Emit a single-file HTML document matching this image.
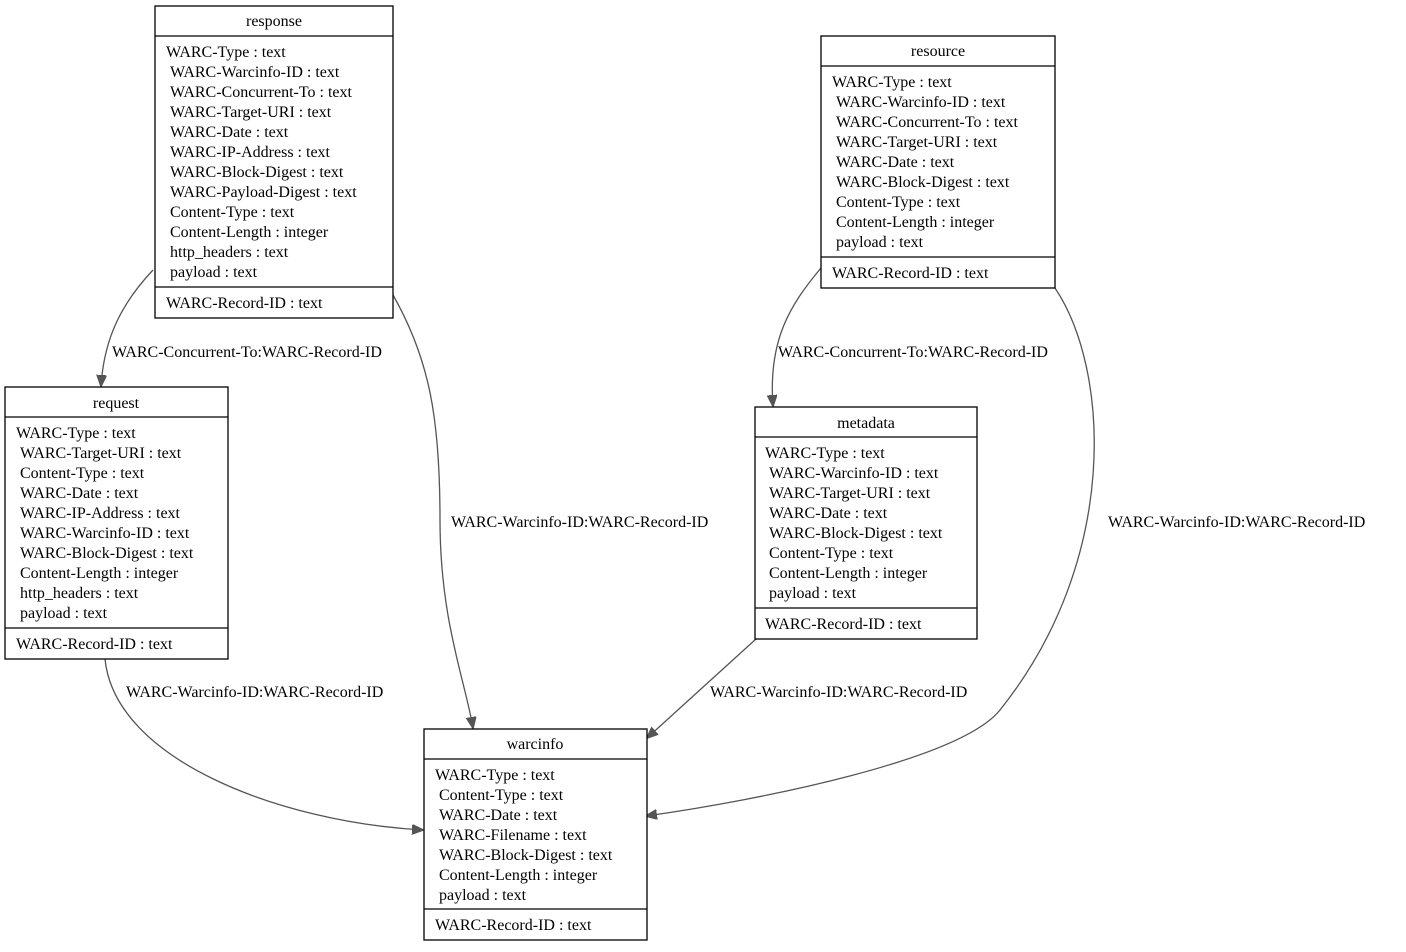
<!DOCTYPE html>
<html><head><meta charset="utf-8"><style>
html,body{margin:0;padding:0;background:#fff;}
svg text{font-family:"Liberation Serif",serif;font-size:16px;fill:#000;}
</style></head><body>
<svg width="1406" height="947" viewBox="0 0 1406 947" xmlns="http://www.w3.org/2000/svg">
<defs><marker id="a" markerWidth="12" markerHeight="12" refX="11" refY="5" orient="auto" markerUnits="userSpaceOnUse"><path d="M0,0 L12,5 L0,10 z" fill="#555" stroke="#555"/></marker></defs>
<g fill="none" stroke="#555" stroke-width="1.3">
<path d="M153,270 C120,305 104,340 101,386" marker-end="url(#a)"/>
<path d="M393,295 C430,360 440,420 440,520 C440,620 465,680 473,728" marker-end="url(#a)"/>
<path d="M105,659 C115,760 280,822 423,830" marker-end="url(#a)"/>
<path d="M821,268 C790,305 768,340 773,406" marker-end="url(#a)"/>
<path d="M1055,288 C1110,370 1120,560 1000,710 C960,760 760,800 646,816" marker-end="url(#a)"/>
<path d="M756,639 L647,738" marker-end="url(#a)"/>
</g>
<g>
<text x="112" y="357">WARC-Concurrent-To:WARC-Record-ID</text>
<text x="451" y="527">WARC-Warcinfo-ID:WARC-Record-ID</text>
<text x="126" y="697">WARC-Warcinfo-ID:WARC-Record-ID</text>
<text x="778" y="357">WARC-Concurrent-To:WARC-Record-ID</text>
<text x="1108" y="527">WARC-Warcinfo-ID:WARC-Record-ID</text>
<text x="710" y="697">WARC-Warcinfo-ID:WARC-Record-ID</text>
</g>
<g fill="#fff" stroke="#000" stroke-width="1.3">
<rect x="155" y="6" width="238" height="312"/><line x1="155" y1="36" x2="393" y2="36"/><line x1="155" y1="287" x2="393" y2="287"/>
<rect x="5" y="387" width="223" height="272"/><line x1="5" y1="417" x2="228" y2="417"/><line x1="5" y1="628" x2="228" y2="628"/>
<rect x="821" y="36" width="234" height="252"/><line x1="821" y1="66" x2="1055" y2="66"/><line x1="821" y1="257" x2="1055" y2="257"/>
<rect x="755" y="407" width="222" height="232"/><line x1="755" y1="437" x2="977" y2="437"/><line x1="755" y1="608" x2="977" y2="608"/>
<rect x="424" y="729" width="223" height="211"/><line x1="424" y1="759" x2="647" y2="759"/><line x1="424" y1="909" x2="647" y2="909"/>
</g>
<g text-anchor="middle">
<text x="274" y="26">response</text>
<text x="116" y="408">request</text>
<text x="938" y="56">resource</text>
<text x="866" y="428">metadata</text>
<text x="535" y="749">warcinfo</text>
</g>
<g>
<text x="166" y="57">WARC-Type : text</text>
<text x="170" y="77">WARC-Warcinfo-ID : text</text>
<text x="170" y="97">WARC-Concurrent-To : text</text>
<text x="170" y="117">WARC-Target-URI : text</text>
<text x="170" y="137">WARC-Date : text</text>
<text x="170" y="157">WARC-IP-Address : text</text>
<text x="170" y="177">WARC-Block-Digest : text</text>
<text x="170" y="197">WARC-Payload-Digest : text</text>
<text x="170" y="217">Content-Type : text</text>
<text x="170" y="237">Content-Length : integer</text>
<text x="170" y="257">http_headers : text</text>
<text x="170" y="277">payload : text</text>
<text x="166" y="308">WARC-Record-ID : text</text>

<text x="16" y="438">WARC-Type : text</text>
<text x="20" y="458">WARC-Target-URI : text</text>
<text x="20" y="478">Content-Type : text</text>
<text x="20" y="498">WARC-Date : text</text>
<text x="20" y="518">WARC-IP-Address : text</text>
<text x="20" y="538">WARC-Warcinfo-ID : text</text>
<text x="20" y="558">WARC-Block-Digest : text</text>
<text x="20" y="578">Content-Length : integer</text>
<text x="20" y="598">http_headers : text</text>
<text x="20" y="618">payload : text</text>
<text x="16" y="649">WARC-Record-ID : text</text>

<text x="832" y="87">WARC-Type : text</text>
<text x="836" y="107">WARC-Warcinfo-ID : text</text>
<text x="836" y="127">WARC-Concurrent-To : text</text>
<text x="836" y="147">WARC-Target-URI : text</text>
<text x="836" y="167">WARC-Date : text</text>
<text x="836" y="187">WARC-Block-Digest : text</text>
<text x="836" y="207">Content-Type : text</text>
<text x="836" y="227">Content-Length : integer</text>
<text x="836" y="247">payload : text</text>
<text x="832" y="278">WARC-Record-ID : text</text>

<text x="765" y="458">WARC-Type : text</text>
<text x="769" y="478">WARC-Warcinfo-ID : text</text>
<text x="769" y="498">WARC-Target-URI : text</text>
<text x="769" y="518">WARC-Date : text</text>
<text x="769" y="538">WARC-Block-Digest : text</text>
<text x="769" y="558">Content-Type : text</text>
<text x="769" y="578">Content-Length : integer</text>
<text x="769" y="598">payload : text</text>
<text x="765" y="629">WARC-Record-ID : text</text>

<text x="435" y="780">WARC-Type : text</text>
<text x="439" y="800">Content-Type : text</text>
<text x="439" y="820">WARC-Date : text</text>
<text x="439" y="840">WARC-Filename : text</text>
<text x="439" y="860">WARC-Block-Digest : text</text>
<text x="439" y="880">Content-Length : integer</text>
<text x="439" y="900">payload : text</text>
<text x="435" y="930">WARC-Record-ID : text</text>
</g>
</svg>
</body></html>
